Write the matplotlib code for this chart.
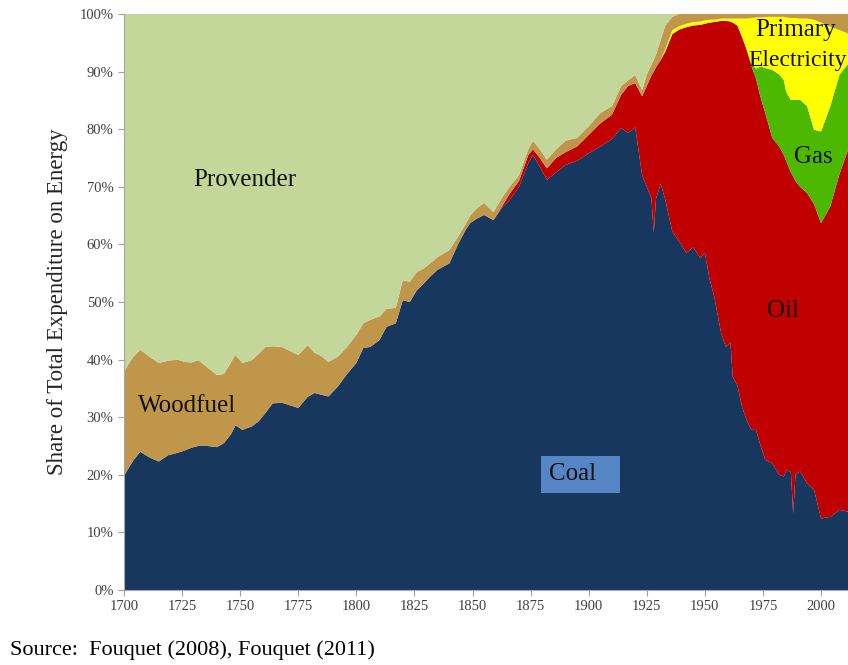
import matplotlib.pyplot as plt
from matplotlib.patches import Rectangle
from matplotlib.ticker import FuncFormatter

years = [1700, 1704, 1707, 1711, 1715, 1719, 1723, 1726, 1729, 1732, 1736, 1740, 1743,
         1746, 1748, 1751, 1755, 1758, 1761, 1764, 1768, 1772, 1775, 1779, 1782, 1785,
         1788, 1792, 1796, 1800, 1803, 1806, 1810, 1813, 1817, 1820, 1823, 1826, 1829,
         1832, 1835, 1840, 1844, 1847, 1849, 1852, 1855, 1859, 1863, 1866, 1870, 1874,
         1876, 1879, 1882, 1886, 1890, 1895, 1900, 1905, 1910, 1914, 1917, 1920, 1923,
         1925, 1927, 1928, 1929, 1931, 1933, 1936, 1939, 1942, 1945, 1948, 1950, 1952,
         1954, 1957, 1959, 1961, 1962, 1964, 1966, 1968, 1970, 1972, 1974, 1976, 1979,
         1982, 1984, 1985, 1987, 1988, 1989, 1991, 1994, 1997, 2000, 2004, 2008, 2011.6]

coal = [19.8, 22.5, 24.0, 23.0, 22.3, 23.4, 23.8, 24.2, 24.7, 25.0, 25.0, 24.8, 25.5,
        27.0, 28.6, 27.8, 28.4, 29.3, 30.8, 32.4, 32.5, 32.0, 31.6, 33.5, 34.2, 33.9,
        33.6, 35.3, 37.5, 39.4, 42.0, 42.2, 43.4, 45.7, 46.3, 50.3, 50.0, 52.0, 53.2,
        54.5, 55.6, 56.7, 60.2, 62.5, 63.7, 64.5, 65.1, 64.2, 66.5, 67.7, 70.0, 74.1,
        75.5, 73.5, 71.2, 72.5, 73.8, 74.5, 75.8, 77.0, 78.3, 80.2, 79.3, 80.4, 72.0,
        70.0, 68.0, 62.0, 68.0, 70.5, 67.7, 62.2, 60.5, 58.5, 59.5, 57.6, 58.5, 54.0,
        51.0, 44.6, 42.2, 43.0, 37.0, 35.5, 31.8, 29.5, 27.8, 27.8, 25.0, 22.6, 22.0,
        20.0, 19.7, 20.8, 20.5, 13.3, 20.0, 20.6, 18.5, 17.4, 12.4, 12.7, 13.9, 13.6]

oil = [0] * 48 + [
    0.3, 1.1, 1.0, 1.4, 1.0, 1.5, 2.0, 2.5, 2.2, 2.5, 3.2, 4.0, 4.2, 5.8, 8.2, 7.6,
    13.7, 17.5, 21.3, 28.0, 22.8, 21.5, 25.8, 34.3, 36.8, 39.2, 38.5, 40.5, 39.8,
    44.5, 47.6, 54.2, 56.6, 55.7, 61.5, 62.5, 64.2, 64.3, 63.2, 61.0, 60.5, 60.2,
    56.5, 57.0, 55.8, 53.7, 52.0, 58.5, 51.0, 49.4, 50.4, 49.6, 51.3, 53.9, 58.4, 62.8]

gas = [0] * 86 + [0.5, 1.7, 5.4, 7.8, 11.8, 12.5, 13.0, 12.0, 12.6, 13.3, 14.1, 15.1,
                  15.1, 12.9, 15.9, 17.4, 17.2, 14.9]

electricity = [0] * 70 + [0.5, 0.7, 0.6, 0.6, 0.6, 0.6, 0.6, 0.5, 0.4, 0.4, 0.4, 0.5,
                          0.7, 1.2, 3.2, 5.4, 7.8, 8.9, 8.5, 8.9, 9.2, 10.0, 11.0, 12.9,
                          14.2, 14.2, 14.2, 14.1, 15.2, 19.1, 18.9, 13.8, 7.7, 5.3]

woodfuel = [18.1, 18.0, 17.7, 17.5, 17.1, 16.4, 16.2, 15.4, 14.8, 14.9, 13.6, 12.5, 12.0,
            12.5, 12.2, 11.6, 11.5, 11.7, 11.4, 9.9, 9.7, 9.4, 9.2, 9.0, 7.0, 6.7,
            6.0, 5.2, 4.7, 4.9, 4.3, 4.7, 4.1, 3.1, 2.7, 3.5, 3.5, 3.2, 2.6,
            2.3, 2.2, 2.3, 1.3, 1.0, 1.3, 1.8, 2.1, 1.4, 1.5, 1.2, 1.0, 1.0,
            1.5, 1.5, 1.5, 1.5, 2.0, 1.5, 1.5, 1.8, 1.5, 1.5, 1.0, 1.4, 1.1,
            2.0, 1.9, 2.0, 2.2, 3.5, 4.0, 2.3, 2.1, 1.7, 1.4, 1.3, 1.1, 1.0,
            1.0, 0.8, 0.8, 0.8, 0.8, 0.8, 0.8, 0.8, 0.7, 0.6, 0.6, 0.5, 0.5,
            0.5, 0.5, 0.6, 0.7, 0.7, 0.7, 0.8, 0.8, 1.0, 1.5, 2.2, 2.8, 3.4]

provender = [62.1, 59.5, 58.3, 59.5, 60.6, 60.2, 60.0, 60.4, 60.5, 60.1, 61.4, 62.7, 62.5,
             60.5, 59.2, 60.6, 60.1, 59.0, 57.8, 57.7, 57.8, 58.6, 59.2, 57.5, 58.8, 59.4,
             60.4, 59.5, 57.8, 55.7, 53.7, 53.1, 52.5, 51.2, 51.0, 46.2, 46.5, 44.8, 44.2,
             43.2, 42.2, 41.0, 38.5, 36.5, 35.0, 33.7, 32.8, 34.4, 31.7, 30.0, 28.0, 23.5,
             22.0, 23.5, 25.3, 23.5, 22.0, 21.5, 19.5, 17.2, 16.0, 12.5, 11.5, 10.6, 13.2,
             10.5, 8.8, 8.0, 7.0, 4.5, 2.0, 0.5] + [0] * 32

colors = ['#17375E', '#C00000', '#4CB800', '#FFFF00', '#C0974A', '#C4D79B']

plt.rcParams['font.family'] = ['Liberation Serif', 'DejaVu Serif']

fig = plt.figure(figsize=(8.48, 6.65), dpi=100)
ax = fig.add_axes([0.1462, 0.1128, 0.8538, 0.8662])

ax.stackplot(years, coal, oil, gas, electricity, woodfuel, provender,
             colors=colors, linewidth=0)

ax.set_xlim(1700, 2011.6)
ax.set_ylim(0, 100)
ax.set_xticks(range(1700, 2001, 25))
ax.set_yticks(range(0, 101, 10))
ax.yaxis.set_major_formatter(FuncFormatter(lambda v, p: '%d%%' % v))
ax.tick_params(labelsize=10.5, colors='#A0A0A0', labelcolor='#404040', length=4)
for s in ['top', 'right']:
    ax.spines[s].set_visible(False)
for s in ['left', 'bottom']:
    ax.spines[s].set_color('#A6A6A6')

ax.set_ylabel('Share of Total Expenditure on Energy', fontsize=16.5, color='#262626',
              labelpad=8)

# label box behind "Coal"
ax.add_patch(Rectangle((1879.5, 16.9), 34, 6.4, facecolor='#5585C5', edgecolor='none'))

lbl = dict(fontsize=18, ha='center', va='center', color='#111111')
ax.text(1752, 71.2, 'Provender', **lbl)
ax.text(1727, 32, 'Woodfuel', **lbl)
ax.text(1893, 20.1, 'Coal', **lbl)
ax.text(1983.7, 48.4, 'Oil', **lbl)
ax.text(1996.6, 75.2, 'Gas', **lbl)
ax.text(1989, 97.2, 'Primary', **lbl)
ax.text(2011.2, 92, 'Electricity', fontsize=17, ha='right', va='center', color='#111111')

fig.text(0.012, 0.008, 'Source:  Fouquet (2008), Fouquet (2011)', fontsize=16,
         ha='left', va='bottom')

fig.savefig('out.png', dpi=100)
